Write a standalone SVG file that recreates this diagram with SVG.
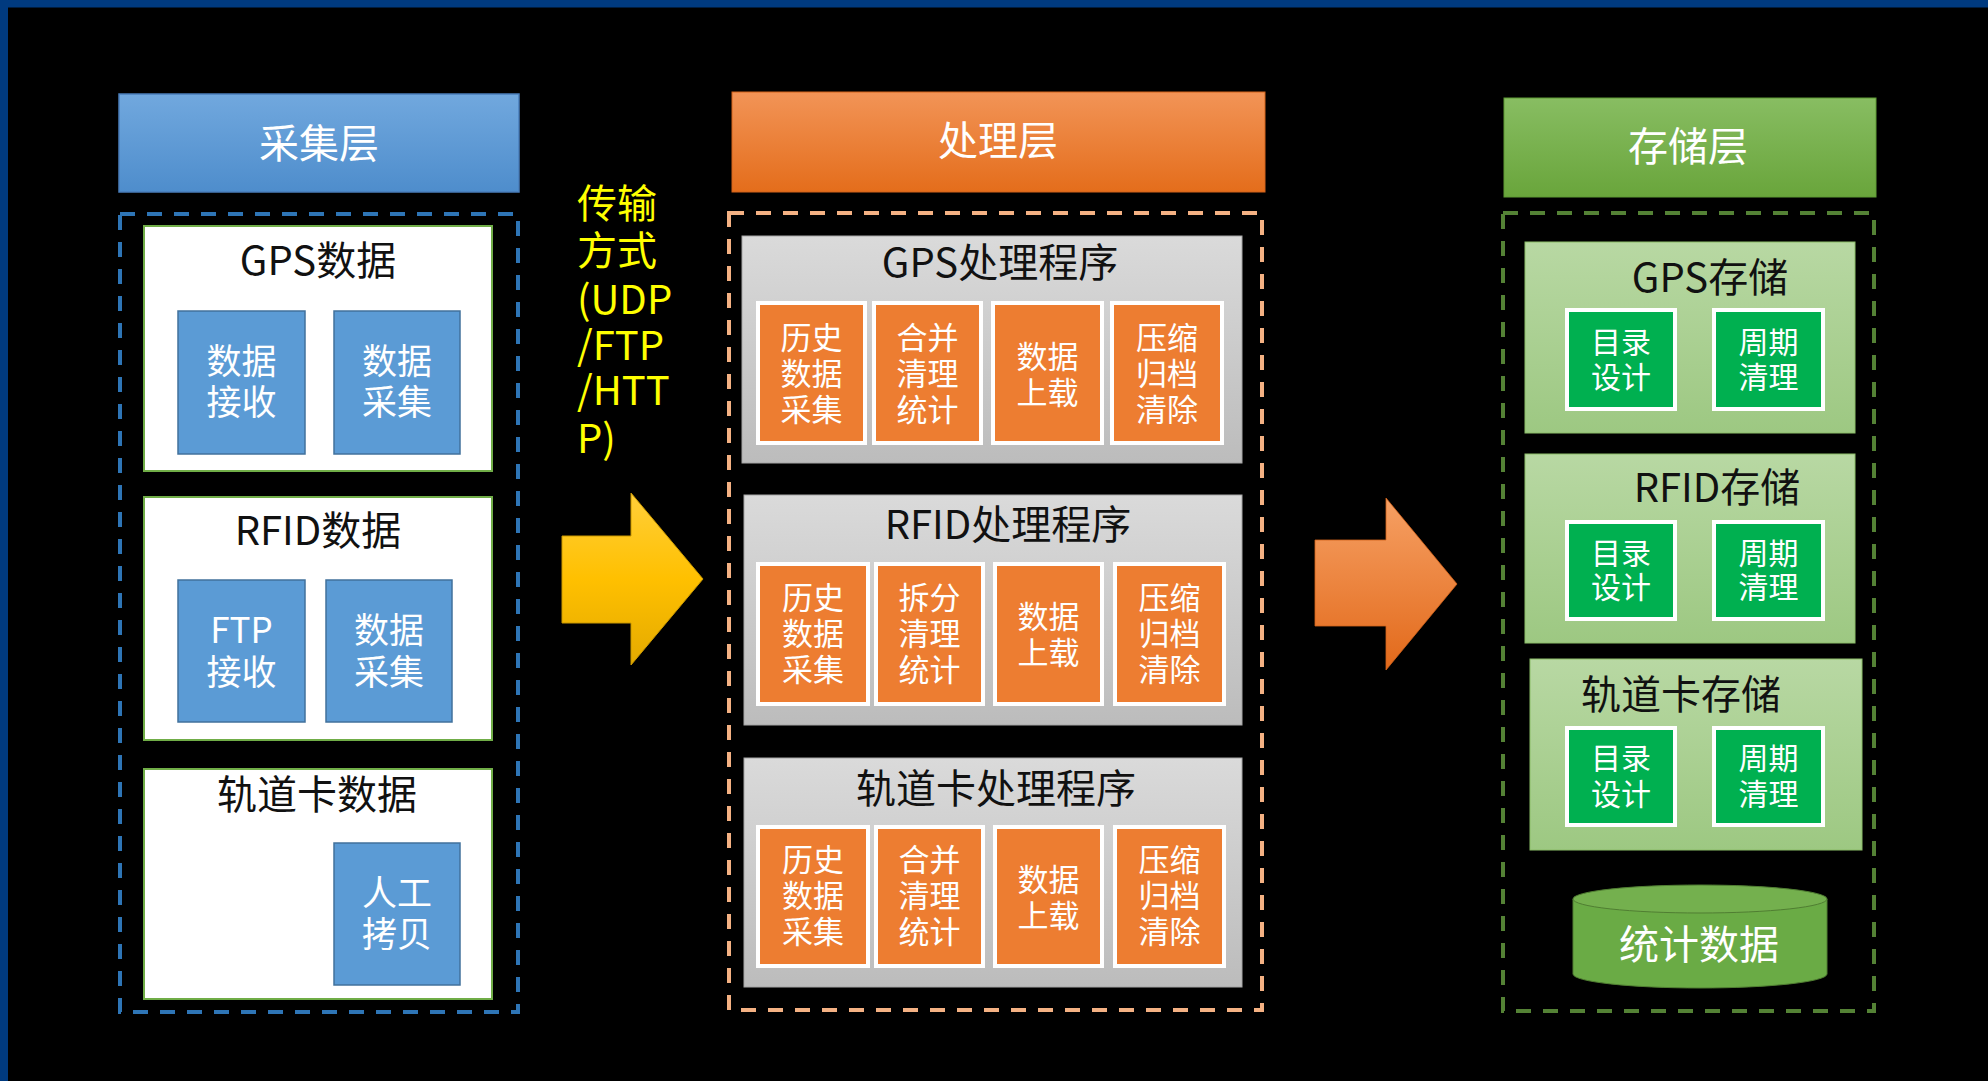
<svg xmlns="http://www.w3.org/2000/svg" width="1988" height="1081" viewBox="0 0 1988 1081">
<defs>
<linearGradient id="gBlue" x1="0" y1="0" x2="0" y2="1"><stop offset="0" stop-color="#71a8de"/><stop offset="1" stop-color="#4e8dcc"/></linearGradient>
<linearGradient id="gOrange" x1="0" y1="0" x2="0" y2="1"><stop offset="0" stop-color="#f29457"/><stop offset="1" stop-color="#e46d1b"/></linearGradient>
<linearGradient id="gGreen" x1="0" y1="0" x2="0" y2="1"><stop offset="0" stop-color="#88bd62"/><stop offset="1" stop-color="#69a53b"/></linearGradient>
<linearGradient id="gGrey" x1="0" y1="0" x2="0" y2="1"><stop offset="0" stop-color="#dadada"/><stop offset="1" stop-color="#bcbcbc"/></linearGradient>
<linearGradient id="gLGreen" x1="0" y1="0" x2="0" y2="1"><stop offset="0" stop-color="#b8d8a3"/><stop offset="1" stop-color="#9dc882"/></linearGradient>
<linearGradient id="gYellow" x1="0" y1="0" x2="0" y2="1"><stop offset="0" stop-color="#ffcf3a"/><stop offset="0.5" stop-color="#ffc000"/><stop offset="1" stop-color="#e4aa00"/></linearGradient>
<linearGradient id="gOArrow" x1="0" y1="0" x2="0" y2="1"><stop offset="0" stop-color="#f6a064"/><stop offset="1" stop-color="#e2691a"/></linearGradient>
<style>
text{font-family:"Noto Sans CJK SC","Microsoft YaHei","Noto Sans",sans-serif;dominant-baseline:central;text-anchor:middle}
.hdr{font-size:40px;fill:#fff}
.ttl{font-size:40px;fill:#111}
.wt36{font-size:35px;fill:#fff}
.wt31{font-size:31px;fill:#fff}
.wt30{font-size:30px;fill:#fff}
.tr{font-size:40px;fill:#ffff00;text-anchor:start}
.dash{fill:none;stroke-width:4;stroke-dasharray:15 12}
.wbox{fill:#fff;stroke:#70ad47;stroke-width:2}
.bbox{fill:#5b9bd5;stroke:#41719c;stroke-width:1.5}
.gbox{fill:url(#gGrey);stroke:#a5a5a5;stroke-width:1}
.obox{fill:#ed7d31;stroke:#fff;stroke-width:4}
.lgbox{fill:url(#gLGreen);stroke:#8bbd69;stroke-width:1}
.dgbox{fill:#00b050;stroke:#fff;stroke-width:4}
</style>
</defs>
<rect x="0" y="0" width="1988" height="1081" fill="#000"/>
<rect x="0" y="0" width="1988" height="7.5" fill="#003a7f"/>
<rect x="0" y="0" width="8" height="1081" fill="#003a7f"/>

<!-- Collection layer -->
<g id="collect-header">
<rect x="119" y="94" width="400" height="98" fill="url(#gBlue)" stroke="#4a7ebb" stroke-width="1.5"/>
<text class="hdr" x="319" y="141">采集层</text>
</g>
<g id="collect-group">
<rect class="dash" x="120" y="214" width="398" height="798" stroke="#2e75b6"/>
</g>
<g id="gps-data">
<rect class="wbox" x="144" y="226" width="348" height="245"/>
<text class="ttl" x="318" y="258">GPS数据</text>
<rect class="bbox" x="178" y="311" width="127" height="143"/>
<text class="wt36" x="241.5" y="358"><tspan x="241.5">数据</tspan><tspan x="241.5" dy="41">接收</tspan></text>
<rect class="bbox" x="334" y="311" width="126" height="143"/>
<text class="wt36" x="397" y="358"><tspan x="397">数据</tspan><tspan x="397" dy="41">采集</tspan></text>
</g>
<g id="rfid-data">
<rect class="wbox" x="144" y="497" width="348" height="243"/>
<text class="ttl" x="318" y="528">RFID数据</text>
<rect class="bbox" x="178" y="580" width="127" height="142"/>
<text class="wt36" x="241.5" y="627"><tspan x="241.5">FTP</tspan><tspan x="241.5" dy="42">接收</tspan></text>
<rect class="bbox" x="326" y="580" width="126" height="142"/>
<text class="wt36" x="389" y="627"><tspan x="389">数据</tspan><tspan x="389" dy="42">采集</tspan></text>
</g>
<g id="track-data">
<rect class="wbox" x="144" y="769" width="348" height="230"/>
<text class="ttl" x="317" y="792">轨道卡数据</text>
<rect class="bbox" x="334" y="843" width="126" height="142"/>
<text class="wt36" x="397" y="890"><tspan x="397">人工</tspan><tspan x="397" dy="41">拷贝</tspan></text>
</g>

<g id="transport-label">
<text class="tr" x="577" y="201"><tspan x="577">传输</tspan><tspan x="577" dy="47">方式</tspan><tspan x="577" dy="49">(UDP</tspan><tspan x="577" dy="46">/FTP</tspan><tspan x="577" dy="45">/HTT</tspan><tspan x="577" dy="48">P)</tspan></text>
</g>

<!-- Processing layer -->
<g id="process-header">
<rect x="732" y="92" width="533" height="100" fill="url(#gOrange)" stroke="#d2621a" stroke-width="1"/>
<text class="hdr" x="998" y="138">处理层</text>
</g>
<g id="process-group">
<rect class="dash" x="729" y="213" width="533" height="797" stroke="#f4b183"/>
</g>
<g id="gps-proc">
<rect class="gbox" x="742" y="236" width="500" height="227"/>
<text class="ttl" x="1000" y="260">GPS处理程序</text>
<rect class="obox" x="758" y="303" width="107" height="140"/>
<text class="wt31" x="811.5" y="335"><tspan x="811.5">历史</tspan><tspan x="811.5" dy="36">数据</tspan><tspan x="811.5" dy="36">采集</tspan></text>
<rect class="obox" x="874" y="303" width="107" height="140"/>
<text class="wt31" x="927.5" y="335"><tspan x="927.5">合并</tspan><tspan x="927.5" dy="36">清理</tspan><tspan x="927.5" dy="36">统计</tspan></text>
<rect class="obox" x="993" y="303" width="109" height="140"/>
<text class="wt31" x="1047.5" y="354"><tspan x="1047.5">数据</tspan><tspan x="1047.5" dy="36">上载</tspan></text>
<rect class="obox" x="1112" y="303" width="110" height="140"/>
<text class="wt31" x="1167" y="335"><tspan x="1167">压缩</tspan><tspan x="1167" dy="36">归档</tspan><tspan x="1167" dy="36">清除</tspan></text>
</g>
<g id="rfid-proc">
<rect class="gbox" x="744" y="495" width="498" height="230"/>
<text class="ttl" x="1008" y="522">RFID处理程序</text>
<rect class="obox" x="758" y="564" width="110" height="140"/>
<text class="wt31" x="813" y="595"><tspan x="813">历史</tspan><tspan x="813" dy="36">数据</tspan><tspan x="813" dy="36">采集</tspan></text>
<rect class="obox" x="876" y="564" width="107" height="140"/>
<text class="wt31" x="929.5" y="595"><tspan x="929.5">拆分</tspan><tspan x="929.5" dy="36">清理</tspan><tspan x="929.5" dy="36">统计</tspan></text>
<rect class="obox" x="995" y="564" width="107" height="140"/>
<text class="wt31" x="1048.5" y="614"><tspan x="1048.5">数据</tspan><tspan x="1048.5" dy="36">上载</tspan></text>
<rect class="obox" x="1115" y="564" width="109" height="140"/>
<text class="wt31" x="1169.5" y="595"><tspan x="1169.5">压缩</tspan><tspan x="1169.5" dy="36">归档</tspan><tspan x="1169.5" dy="36">清除</tspan></text>
</g>
<g id="track-proc">
<rect class="gbox" x="744" y="758" width="498" height="229"/>
<text class="ttl" x="996" y="786">轨道卡处理程序</text>
<rect class="obox" x="758" y="827" width="110" height="139"/>
<text class="wt31" x="813" y="857"><tspan x="813">历史</tspan><tspan x="813" dy="36">数据</tspan><tspan x="813" dy="36">采集</tspan></text>
<rect class="obox" x="876" y="827" width="107" height="139"/>
<text class="wt31" x="929.5" y="857"><tspan x="929.5">合并</tspan><tspan x="929.5" dy="36">清理</tspan><tspan x="929.5" dy="36">统计</tspan></text>
<rect class="obox" x="995" y="827" width="107" height="139"/>
<text class="wt31" x="1048.5" y="877"><tspan x="1048.5">数据</tspan><tspan x="1048.5" dy="36">上载</tspan></text>
<rect class="obox" x="1115" y="827" width="109" height="139"/>
<text class="wt31" x="1169.5" y="857"><tspan x="1169.5">压缩</tspan><tspan x="1169.5" dy="36">归档</tspan><tspan x="1169.5" dy="36">清除</tspan></text>
</g>

<!-- Storage layer -->
<g id="storage-header">
<rect x="1504" y="98" width="372" height="99" fill="url(#gGreen)" stroke="#5e9a35" stroke-width="1"/>
<text class="hdr" x="1688" y="144">存储层</text>
</g>
<g id="storage-group">
<rect class="dash" x="1503" y="213" width="371" height="798" stroke="#548235"/>
</g>
<g id="gps-store">
<rect class="lgbox" x="1525" y="242" width="330" height="191"/>
<text class="ttl" x="1710" y="275">GPS存储</text>
<rect class="dgbox" x="1567" y="310" width="108" height="99"/>
<text class="wt30" x="1621" y="340"><tspan x="1621">目录</tspan><tspan x="1621" dy="35">设计</tspan></text>
<rect class="dgbox" x="1714" y="310" width="109" height="99"/>
<text class="wt30" x="1768.5" y="340"><tspan x="1768.5">周期</tspan><tspan x="1768.5" dy="35">清理</tspan></text>
</g>
<g id="rfid-store">
<rect class="lgbox" x="1525" y="454" width="330" height="189"/>
<text class="ttl" x="1717" y="485">RFID存储</text>
<rect class="dgbox" x="1567" y="522" width="108" height="97"/>
<text class="wt30" x="1621" y="551"><tspan x="1621">目录</tspan><tspan x="1621" dy="34">设计</tspan></text>
<rect class="dgbox" x="1714" y="522" width="109" height="97"/>
<text class="wt30" x="1768.5" y="551"><tspan x="1768.5">周期</tspan><tspan x="1768.5" dy="34">清理</tspan></text>
</g>
<g id="track-store">
<rect class="lgbox" x="1530" y="659" width="332" height="191"/>
<text class="ttl" x="1681" y="692">轨道卡存储</text>
<rect class="dgbox" x="1567" y="728" width="108" height="97"/>
<text class="wt30" x="1621" y="756"><tspan x="1621">目录</tspan><tspan x="1621" dy="36">设计</tspan></text>
<rect class="dgbox" x="1714" y="728" width="109" height="97"/>
<text class="wt30" x="1768.5" y="756"><tspan x="1768.5">周期</tspan><tspan x="1768.5" dy="36">清理</tspan></text>
</g>
<g id="stat-data">
<path d="M1573 899 L1573 974 A127 14 0 0 0 1827 974 L1827 899 Z" fill="#6aab45" stroke="#507e32" stroke-width="1"/>
<ellipse cx="1700" cy="899" rx="127" ry="14" fill="#74b04e" stroke="#507e32" stroke-width="1"/>
<text class="hdr" x="1699" y="942">统计数据</text>
</g>

<g id="connectors">
<polygon points="562,536 631,536 631,493 703,579 631,665 631,623 562,623" fill="url(#gYellow)" stroke="#c99700" stroke-width="1"/>
<polygon points="1315,540 1386,540 1386,498 1457,584 1386,670 1386,626 1315,626" fill="url(#gOArrow)" stroke="#d2621a" stroke-width="0.8"/>
</g>
</svg>
